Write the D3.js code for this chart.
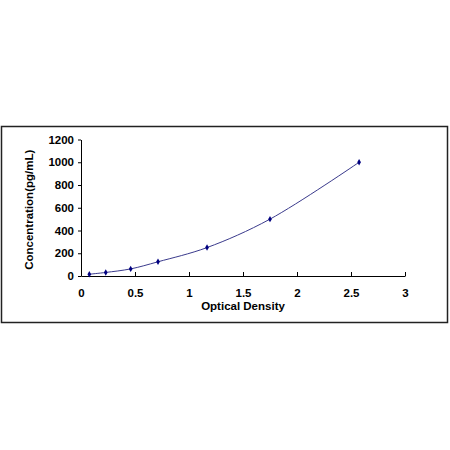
<!DOCTYPE html>
<html>
<head>
<meta charset="utf-8">
<script src="https://cdn.jsdelivr.net/npm/d3@7"></script>
<style>
  body { margin: 0; background: #fff; }
  svg { display: block; }
  text { font-family: "Liberation Sans", Arial, sans-serif; font-weight: bold; }
</style>
</head>
<body>
<svg id="chart"></svg>
<script>
// standard curve points
const od = [0.077, 0.229, 0.46, 0.713, 1.167, 1.75, 2.575];
const conc = [15.6, 31.25, 62.5, 125, 250, 500, 1000];
const xTicks = [0, 0.5, 1, 1.5, 2, 2.5, 3];
const yTicks = [0, 200, 400, 600, 800, 1000, 1200];

const W = 450, H = 450;
const margin = { top: 139.5, right: 45, bottom: 174, left: 81 };
const width = W - margin.left - margin.right;
const height = H - margin.top - margin.bottom;

const svg = d3.select("#chart")
    .attr("width", W)
    .attr("height", H);

// outer frame
svg.append("rect")
    .attr("x", 1.5).attr("y", 126.5)
    .attr("width", 446).attr("height", 196)
    .attr("fill", "#fff")
    .attr("stroke", "#222")
    .attr("stroke-width", 1.5);

const g = svg.append("g")
    .attr("transform", `translate(${margin.left},${margin.top})`);

const x = d3.scaleLinear().domain([0, 3]).range([0, width]);
const y = d3.scaleLinear().domain([0, 1200]).range([height, 0]);

const xAxis = g.append("g")
    .attr("transform", `translate(0,${height})`)
    .call(d3.axisBottom(x).tickValues(xTicks).tickSizeInner(-4).tickSizeOuter(0).tickPadding(13)
        .tickFormat(d3.format("")));

const yAxis = g.append("g")
    .call(d3.axisLeft(y).tickValues(yTicks).tickSize(3).tickSizeOuter(0).tickPadding(4)
        .tickFormat(d3.format("d")));

[xAxis, yAxis].forEach(a => {
    a.select(".domain").attr("stroke", "#000").attr("stroke-width", 1);
    a.selectAll(".tick line").attr("stroke", "#000");
    a.selectAll(".tick text")
        .attr("fill", "#000")
        .style("font-size", "11.5px")
        .style("font-family", '"Liberation Sans", Arial, sans-serif')
        .style("font-weight", "bold");
});

const pts = od.map((v, i) => [v, conc[i]]);

const line = d3.line()
    .x(d => x(d[0]))
    .y(d => y(d[1]))
    .curve(d3.curveCatmullRom);

g.append("path")
    .datum(pts)
    .attr("d", line)
    .attr("fill", "none")
    .attr("stroke", "#3a3a8c")
    .attr("stroke-width", 1);

g.selectAll(".pt")
    .data(pts)
    .join("path")
    .attr("class", "pt")
    .attr("d", d3.symbol(d3.symbolDiamond, 12))
    .attr("transform", d => `translate(${x(d[0])},${y(d[1])})`)
    .attr("fill", "#000080");

svg.append("text")
    .attr("x", margin.left + width / 2)
    .attr("y", 310)
    .attr("text-anchor", "middle")
    .style("font-size", "11.5px")
    .text("Optical Density");

svg.append("text")
    .attr("transform", `translate(33,${margin.top + height / 2 + 2}) rotate(-90)`)
    .attr("text-anchor", "middle")
    .style("font-size", "11.5px")
    .text("Concentration(pg/mL)");
</script>
</body>
</html>
